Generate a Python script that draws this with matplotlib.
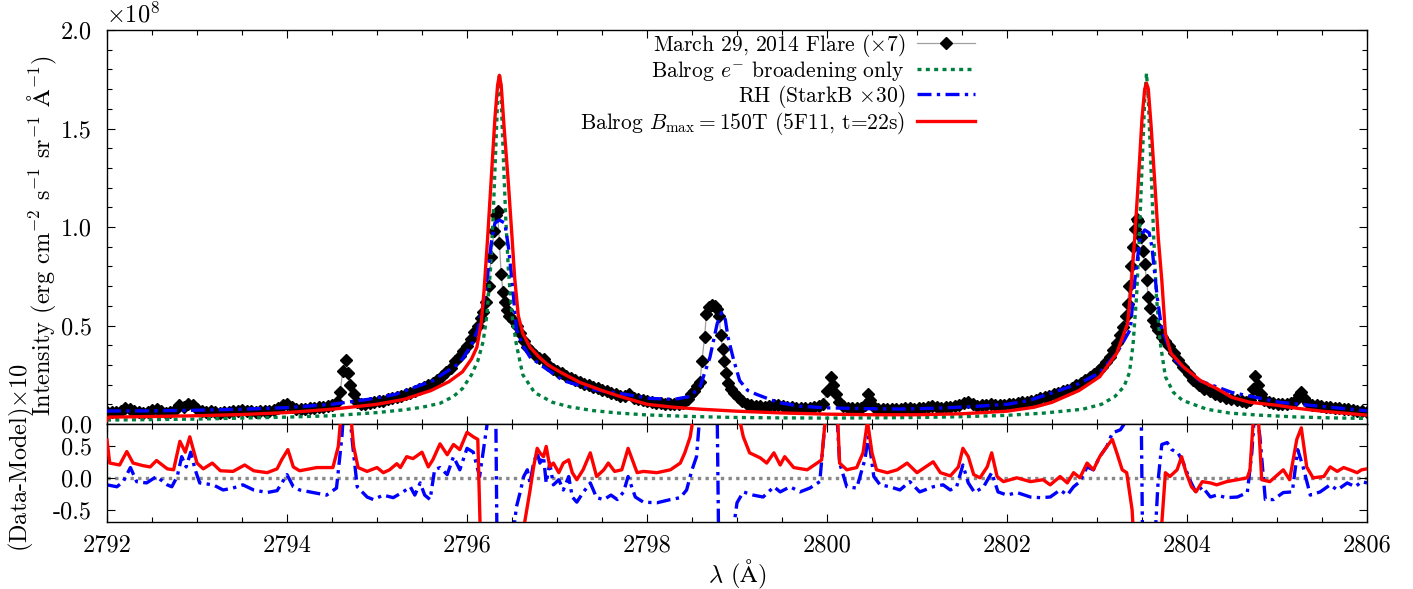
import matplotlib
matplotlib.use("Agg")
import matplotlib.pyplot as plt
from matplotlib.ticker import MultipleLocator

plt.rcParams["font.family"] = ["cmr10", "DejaVu Serif"]
plt.rcParams["mathtext.fontset"] = "cm"
plt.rcParams["axes.formatter.use_mathtext"] = True
plt.rcParams["axes.unicode_minus"] = False

# observed spectrum, March 29 2014 flare (x7), intensity in 1e8 units
obs_wave = [
    2792.00, 2792.05, 2792.10, 2792.15, 2792.20, 2792.25, 2792.30, 2792.35, 2792.40, 2792.45,
    2792.50, 2792.55, 2792.60, 2792.65, 2792.70, 2792.75, 2792.80, 2792.85, 2792.90, 2792.95,
    2793.00, 2793.05, 2793.10, 2793.15, 2793.20, 2793.25, 2793.30, 2793.35, 2793.40, 2793.45,
    2793.50, 2793.55, 2793.60, 2793.65, 2793.70, 2793.75, 2793.80, 2793.85, 2793.90, 2793.95,
    2794.00, 2794.05, 2794.10, 2794.15, 2794.20, 2794.25, 2794.30, 2794.35, 2794.40, 2794.45,
    2794.50, 2794.55, 2794.59, 2794.62, 2794.66, 2794.68, 2794.70, 2794.74, 2794.78, 2794.82,
    2794.87, 2794.92, 2794.97, 2795.02, 2795.07, 2795.12, 2795.17, 2795.22, 2795.27, 2795.32,
    2795.37, 2795.42, 2795.47, 2795.52, 2795.57, 2795.62, 2795.67, 2795.72, 2795.77, 2795.82,
    2795.87, 2795.92, 2795.96, 2796.00, 2796.04, 2796.08, 2796.12, 2796.15, 2796.18, 2796.21,
    2796.24, 2796.27, 2796.30, 2796.32, 2796.34, 2796.36, 2796.38, 2796.40, 2796.42, 2796.44,
    2796.47, 2796.51, 2796.55, 2796.59, 2796.63, 2796.67, 2796.71, 2796.75, 2796.80, 2796.85,
    2796.90, 2796.95, 2797.00, 2797.05, 2797.10, 2797.15, 2797.20, 2797.25, 2797.30, 2797.35,
    2797.40, 2797.45, 2797.50, 2797.55, 2797.60, 2797.65, 2797.70, 2797.75, 2797.80, 2797.85,
    2797.90, 2797.95, 2798.00, 2798.05, 2798.10, 2798.15, 2798.20, 2798.25, 2798.30, 2798.35,
    2798.40, 2798.45, 2798.49, 2798.52, 2798.56, 2798.59, 2798.61, 2798.64, 2798.66, 2798.69,
    2798.72, 2798.75, 2798.78, 2798.80, 2798.82, 2798.84, 2798.86, 2798.88, 2798.90, 2798.93,
    2798.97, 2799.01, 2799.06, 2799.11, 2799.16, 2799.21, 2799.26, 2799.31, 2799.36, 2799.41,
    2799.46, 2799.51, 2799.56, 2799.61, 2799.66, 2799.71, 2799.76, 2799.81, 2799.86, 2799.91,
    2799.96, 2800.00, 2800.04, 2800.07, 2800.10, 2800.13, 2800.18, 2800.23, 2800.28, 2800.33,
    2800.38, 2800.42, 2800.45, 2800.48, 2800.52, 2800.57, 2800.62, 2800.67, 2800.72, 2800.77,
    2800.82, 2800.87, 2800.92, 2800.97, 2801.02, 2801.07, 2801.12, 2801.17, 2801.22, 2801.27,
    2801.32, 2801.37, 2801.42, 2801.47, 2801.52, 2801.57, 2801.62, 2801.67, 2801.72, 2801.77,
    2801.82, 2801.87, 2801.92, 2801.97, 2802.02, 2802.07, 2802.12, 2802.17, 2802.22, 2802.27,
    2802.32, 2802.37, 2802.42, 2802.47, 2802.52, 2802.57, 2802.62, 2802.67, 2802.72, 2802.77,
    2802.82, 2802.87, 2802.92, 2802.97, 2803.02, 2803.06, 2803.10, 2803.14, 2803.18, 2803.22,
    2803.26, 2803.29, 2803.32, 2803.34, 2803.36, 2803.38, 2803.40, 2803.42, 2803.44, 2803.46,
    2803.49, 2803.51, 2803.53, 2803.55, 2803.57, 2803.59, 2803.62, 2803.65, 2803.68, 2803.72,
    2803.76, 2803.80, 2803.85, 2803.90, 2803.96, 2804.02, 2804.07, 2804.13, 2804.19, 2804.25,
    2804.31, 2804.37, 2804.43, 2804.49, 2804.55, 2804.61, 2804.66, 2804.70, 2804.73, 2804.76,
    2804.79, 2804.82, 2804.86, 2804.91, 2804.96, 2805.01, 2805.06, 2805.11, 2805.16, 2805.21,
    2805.24, 2805.27, 2805.30, 2805.34, 2805.39, 2805.44, 2805.49, 2805.54, 2805.59, 2805.64,
    2805.69, 2805.74, 2805.79, 2805.84, 2805.89, 2805.94, 2806.00]
obs_flux = [
    0.060, 0.062, 0.060, 0.068, 0.082, 0.078, 0.064, 0.060, 0.058, 0.062,
    0.070, 0.074, 0.064, 0.058, 0.060, 0.070, 0.095, 0.088, 0.102, 0.095,
    0.078, 0.066, 0.062, 0.068, 0.062, 0.058, 0.060, 0.062, 0.064, 0.066,
    0.070, 0.068, 0.064, 0.062, 0.064, 0.066, 0.068, 0.072, 0.080, 0.095,
    0.100, 0.088, 0.078, 0.076, 0.078, 0.080, 0.082, 0.084, 0.086, 0.090,
    0.094, 0.110, 0.160, 0.270, 0.325, 0.260, 0.200, 0.150, 0.110, 0.100,
    0.102, 0.108, 0.112, 0.115, 0.118, 0.125, 0.130, 0.135, 0.142, 0.150,
    0.158, 0.165, 0.180, 0.190, 0.200, 0.210, 0.225, 0.245, 0.262, 0.285,
    0.320, 0.345, 0.370, 0.395, 0.430, 0.465, 0.500, 0.540, 0.570, 0.620,
    0.700, 0.850, 0.980, 1.060, 1.080, 0.920, 0.760, 0.670, 0.620, 0.580,
    0.550, 0.530, 0.500, 0.460, 0.420, 0.390, 0.370, 0.350, 0.335, 0.330,
    0.300, 0.280, 0.268, 0.258, 0.245, 0.232, 0.222, 0.212, 0.205, 0.196,
    0.190, 0.182, 0.175, 0.168, 0.158, 0.150, 0.144, 0.140, 0.150, 0.132,
    0.125, 0.120, 0.115, 0.112, 0.108, 0.105, 0.104, 0.102, 0.100, 0.102,
    0.108, 0.125, 0.150, 0.170, 0.195, 0.215, 0.320, 0.440, 0.560, 0.595,
    0.605, 0.600, 0.585, 0.550, 0.450, 0.380, 0.320, 0.260, 0.210, 0.180,
    0.158, 0.135, 0.115, 0.100, 0.096, 0.092, 0.090, 0.088, 0.090, 0.096,
    0.094, 0.090, 0.086, 0.084, 0.082, 0.080, 0.080, 0.080, 0.084, 0.090,
    0.100, 0.170, 0.240, 0.200, 0.150, 0.110, 0.090, 0.082, 0.080, 0.080,
    0.082, 0.095, 0.150, 0.120, 0.085, 0.078, 0.076, 0.074, 0.075, 0.076,
    0.078, 0.082, 0.080, 0.078, 0.080, 0.082, 0.085, 0.090, 0.086, 0.082,
    0.084, 0.086, 0.090, 0.096, 0.108, 0.112, 0.100, 0.092, 0.094, 0.096,
    0.104, 0.098, 0.094, 0.096, 0.100, 0.102, 0.106, 0.110, 0.114, 0.118,
    0.124, 0.130, 0.136, 0.142, 0.150, 0.158, 0.166, 0.175, 0.185, 0.196,
    0.208, 0.222, 0.238, 0.255, 0.272, 0.290, 0.315, 0.340, 0.375, 0.410,
    0.450, 0.490, 0.550, 0.610, 0.700, 0.800, 0.900, 0.990, 1.040, 1.030,
    0.950, 0.880, 0.810, 0.730, 0.645, 0.590, 0.530, 0.500, 0.475, 0.440,
    0.420, 0.395, 0.360, 0.325, 0.290, 0.255, 0.225, 0.200, 0.180, 0.165,
    0.152, 0.140, 0.132, 0.128, 0.122, 0.116, 0.112, 0.120, 0.180, 0.245,
    0.200, 0.150, 0.120, 0.112, 0.108, 0.104, 0.102, 0.100, 0.105, 0.120,
    0.145, 0.160, 0.130, 0.108, 0.098, 0.094, 0.090, 0.087, 0.085, 0.082,
    0.080, 0.076, 0.074, 0.072, 0.068, 0.064, 0.060]

# Balrog, e- broadening only
green_wave = [2792.00, 2793.00, 2794.00, 2794.50, 2795.00, 2795.30, 2795.50, 2795.70, 2795.85, 2795.95,
              2796.05, 2796.12, 2796.18, 2796.22, 2796.26, 2796.29, 2796.32, 2796.34, 2796.36, 2796.38,
              2796.40, 2796.43, 2796.46, 2796.50, 2796.55, 2796.62, 2796.75, 2796.95, 2797.14, 2797.40,
              2797.67, 2798.00, 2798.50, 2799.00, 2799.50, 2800.00, 2800.50, 2801.00, 2801.50, 2802.00,
              2802.40, 2802.84, 2803.05, 2803.20, 2803.30, 2803.36, 2803.40, 2803.44, 2803.47, 2803.50,
              2803.53, 2803.55, 2803.57, 2803.60, 2803.63, 2803.66, 2803.70, 2803.76, 2803.85, 2803.95,
              2804.22, 2804.48, 2804.80, 2805.20, 2805.60, 2806.00]
green_flux = [0.020, 0.025, 0.035, 0.042, 0.058, 0.072, 0.085, 0.105, 0.140, 0.180,
              0.250, 0.320, 0.420, 0.550, 0.780, 1.050, 1.400, 1.650, 1.780, 1.650,
              1.400, 1.050, 0.780, 0.550, 0.400, 0.250, 0.160, 0.110, 0.087, 0.068,
              0.056, 0.046, 0.038, 0.033, 0.031, 0.030, 0.031, 0.033, 0.037, 0.044,
              0.055, 0.075, 0.100, 0.140, 0.190, 0.260, 0.400, 0.650, 0.950, 1.300,
              1.650, 1.780, 1.650, 1.300, 0.950, 0.650, 0.420, 0.240, 0.160, 0.120,
              0.075, 0.055, 0.045, 0.036, 0.031, 0.028]

# RH (StarkB x30)
blue_wave = [2792.00, 2792.50, 2793.00, 2793.50, 2794.00, 2794.50, 2794.90, 2795.20, 2795.62, 2795.92,
             2796.05, 2796.12, 2796.17, 2796.22, 2796.27, 2796.31, 2796.36, 2796.42, 2796.46, 2796.50,
             2796.55, 2796.62, 2796.70, 2796.85, 2797.07, 2797.40, 2797.70, 2798.03, 2798.30, 2798.48,
             2798.59, 2798.70, 2798.78, 2798.83, 2798.87, 2798.90, 2798.96, 2799.03, 2799.12, 2799.22,
             2799.45, 2799.70, 2800.00, 2800.40, 2800.81, 2801.20, 2801.60, 2802.00, 2802.25, 2802.48,
             2802.80, 2803.03, 2803.22, 2803.37, 2803.42, 2803.48, 2803.53, 2803.58, 2803.61, 2803.67,
             2803.72, 2803.85, 2804.14, 2804.50, 2805.03, 2805.59, 2806.00]
blue_flux = [0.066, 0.067, 0.070, 0.075, 0.083, 0.100, 0.125, 0.150, 0.220, 0.310,
             0.400, 0.480, 0.580, 0.730, 0.920, 1.020, 1.035, 1.020, 0.900, 0.730,
             0.480, 0.400, 0.340, 0.290, 0.220, 0.175, 0.155, 0.130, 0.125, 0.140,
             0.190, 0.340, 0.510, 0.565, 0.530, 0.440, 0.330, 0.220, 0.170, 0.150,
             0.110, 0.090, 0.082, 0.078, 0.076, 0.080, 0.088, 0.100, 0.120, 0.155,
             0.205, 0.260, 0.360, 0.480, 0.730, 0.950, 0.985, 0.970, 0.900, 0.640,
             0.480, 0.330, 0.220, 0.160, 0.110, 0.085, 0.067]

# Balrog Bmax = 150T (5F11, t=22s)
red_wave = [2792.00, 2792.02, 2792.50, 2793.00, 2793.50, 2794.00, 2794.50, 2795.00, 2795.30, 2795.60,
            2795.80, 2795.95, 2796.05, 2796.11, 2796.16, 2796.19, 2796.23, 2796.27, 2796.31, 2796.34,
            2796.36, 2796.38, 2796.41, 2796.46, 2796.50, 2796.53, 2796.57, 2796.62, 2796.70, 2796.80,
            2796.90, 2797.05, 2797.26, 2797.50, 2797.70, 2798.00, 2798.30, 2798.60, 2799.00, 2799.50,
            2800.00, 2800.50, 2801.00, 2801.50, 2802.00, 2802.30, 2802.50, 2802.80, 2803.03, 2803.22,
            2803.34, 2803.38, 2803.42, 2803.46, 2803.50, 2803.53, 2803.55, 2803.57, 2803.60, 2803.64,
            2803.68, 2803.72, 2803.76, 2803.82, 2803.96, 2804.15, 2804.33, 2804.50, 2804.70, 2805.00,
            2805.22, 2805.50, 2805.75, 2806.00]
red_flux = [0.020, 0.035, 0.038, 0.042, 0.048, 0.058, 0.075, 0.100, 0.125, 0.170,
            0.215, 0.265, 0.330, 0.390, 0.520, 0.680, 0.950, 1.250, 1.550, 1.720,
            1.770, 1.720, 1.520, 1.220, 0.950, 0.740, 0.550, 0.460, 0.390, 0.340,
            0.300, 0.260, 0.210, 0.170, 0.140, 0.100, 0.085, 0.075, 0.065, 0.056,
            0.050, 0.047, 0.047, 0.052, 0.065, 0.085, 0.110, 0.170, 0.240, 0.360,
            0.510, 0.700, 0.950, 1.240, 1.550, 1.700, 1.730, 1.700, 1.520, 1.240,
            0.950, 0.730, 0.460, 0.360, 0.290, 0.220, 0.180, 0.135, 0.110, 0.095,
            0.080, 0.065, 0.055, 0.045]

# residuals (Data-Model)x10, Balrog model
rres_wave = [2792.00, 2792.03, 2792.14, 2792.22, 2792.29, 2792.40, 2792.48, 2792.55, 2792.67, 2792.74,
             2792.81, 2792.87, 2792.92, 2793.00, 2793.07, 2793.17, 2793.26, 2793.40, 2793.53, 2793.63,
             2793.78, 2793.89, 2793.94, 2794.01, 2794.07, 2794.14, 2794.33, 2794.51, 2794.57, 2794.62,
             2794.67, 2794.70, 2794.74, 2794.79, 2794.89, 2795.00, 2795.07, 2795.14, 2795.22, 2795.26,
             2795.33, 2795.40, 2795.50, 2795.57, 2795.62, 2795.70, 2795.78, 2795.85, 2795.92, 2796.00,
             2796.07, 2796.12, 2796.16, 2796.30, 2796.45, 2796.58, 2796.64, 2796.70, 2796.74, 2796.78,
             2796.81, 2796.85, 2796.88, 2796.92, 2796.96, 2797.02, 2797.07, 2797.13, 2797.17, 2797.22,
             2797.29, 2797.37, 2797.44, 2797.52, 2797.57, 2797.64, 2797.72, 2797.79, 2797.89, 2797.96,
             2798.11, 2798.26, 2798.37, 2798.42, 2798.48, 2798.52, 2798.60, 2798.75, 2798.95, 2799.03,
             2799.07, 2799.14, 2799.26, 2799.33, 2799.41, 2799.48, 2799.53, 2799.63, 2799.78, 2799.89,
             2799.94, 2799.98, 2800.05, 2800.11, 2800.14, 2800.22, 2800.33, 2800.40, 2800.45, 2800.50,
             2800.55, 2800.67, 2800.78, 2800.89, 2801.00, 2801.18, 2801.26, 2801.37, 2801.46, 2801.51,
             2801.57, 2801.63, 2801.70, 2801.78, 2801.83, 2801.89, 2801.96, 2802.11, 2802.26, 2802.40,
             2802.48, 2802.59, 2802.67, 2802.74, 2802.81, 2802.89, 2802.96, 2803.03, 2803.11, 2803.17,
             2803.22, 2803.28, 2803.33, 2803.39, 2803.43, 2803.55, 2803.68, 2803.73, 2803.76, 2803.81,
             2803.89, 2803.94, 2803.99, 2804.05, 2804.10, 2804.17, 2804.26, 2804.33, 2804.44, 2804.56,
             2804.67, 2804.70, 2804.75, 2804.79, 2804.83, 2804.92, 2805.07, 2805.14, 2805.22, 2805.27,
             2805.33, 2805.40, 2805.52, 2805.59, 2805.67, 2805.74, 2805.81, 2805.89, 2805.94, 2806.00]
rres_val = [0.59, 0.23, 0.20, 0.41, 0.23, 0.19, 0.17, 0.27, 0.14, 0.125,
            0.57, 0.40, 0.64, 0.23, 0.14, 0.23, 0.11, 0.10, 0.20, 0.11,
            0.08, 0.14, 0.28, 0.44, 0.17, 0.11, 0.16, 0.16, 0.49, 1.30,
            1.60, 1.10, 0.49, 0.16, 0.10, 0.16, 0.08, 0.125, 0.22, 0.16,
            0.33, 0.30, 0.40, 0.17, 0.28, 0.53, 0.36, 0.52, 0.44, 0.71,
            0.64, 0.60, -1.5, -4.0, -3.0, -1.2, -0.7, -0.2, 0.17, 0.46,
            0.39, 0.33, 0.49, 0.17, 0.23, 0.08, 0.23, 0.28, 0.08, -0.03,
            0.125, 0.39, 0.02, 0.125, 0.23, 0.10, 0.125, 0.46, 0.08, 0.10,
            0.08, 0.125, 0.23, 0.39, 0.64, 1.0, 3.0, 6.0, 2.0, 0.9,
            0.64, 0.39, 0.31, 0.23, 0.39, 0.20, 0.33, 0.16, 0.125, 0.23,
            0.28, 0.9, 2.5, 1.2, 0.23, 0.125, 0.16, 0.39, 0.88, 0.39,
            0.125, 0.08, 0.125, 0.23, 0.08, 0.25, 0.08, 0.03, 0.17, 0.46,
            0.33, 0.05, 0.00, 0.17, 0.39, 0.02, -0.06, 0.00, -0.06, -0.03,
            -0.11, 0.02, -0.08, 0.08, 0.00, 0.23, 0.125, 0.33, 0.49, 0.60,
            0.39, 0.125, 0.08, -0.50, -1.5, -4.0, -1.5, -0.5, 0.08, 0.02,
            0.125, 0.33, 0.08, -0.14, -0.22, -0.06, -0.08, -0.11, -0.06, -0.03,
            0.00, 0.125, 1.2, 1.0, -0.03, -0.06, 0.125, -0.03, 0.60, 0.78,
            0.17, 0.00, 0.02, 0.17, 0.10, 0.16, 0.125, 0.08, 0.125, 0.14]

# residuals (Data-Model)x10, RH model
bres_wave = [2792.00, 2792.11, 2792.18, 2792.26, 2792.33, 2792.44, 2792.55, 2792.67, 2792.72, 2792.78,
             2792.83, 2792.88, 2792.93, 2792.98, 2793.03, 2793.18, 2793.29, 2793.40, 2793.51, 2793.63,
             2793.78, 2793.89, 2794.00, 2794.07, 2794.14, 2794.29, 2794.44, 2794.55, 2794.61, 2794.65,
             2794.69, 2794.72, 2794.78, 2794.89, 2794.96, 2795.07, 2795.18, 2795.29, 2795.37, 2795.42,
             2795.48, 2795.53, 2795.59, 2795.64, 2795.70, 2795.78, 2795.85, 2795.92, 2796.00, 2796.07,
             2796.14, 2796.22, 2796.27, 2796.31, 2796.34, 2796.42, 2796.51, 2796.55, 2796.59, 2796.63,
             2796.67, 2796.70, 2796.74, 2796.78, 2796.81, 2796.85, 2796.88, 2796.92, 2796.96, 2797.02,
             2797.07, 2797.13, 2797.17, 2797.22, 2797.29, 2797.37, 2797.44, 2797.52, 2797.60, 2797.67,
             2797.74, 2797.79, 2797.87, 2797.96, 2798.11, 2798.26, 2798.37, 2798.44, 2798.50, 2798.55,
             2798.60, 2798.70, 2798.78, 2798.80, 2798.90, 2798.96, 2799.00, 2799.07, 2799.18, 2799.29,
             2799.41, 2799.48, 2799.59, 2799.70, 2799.81, 2799.92, 2799.98, 2800.05, 2800.11, 2800.14,
             2800.22, 2800.33, 2800.42, 2800.46, 2800.52, 2800.59, 2800.70, 2800.81, 2800.92, 2801.03,
             2801.18, 2801.29, 2801.37, 2801.44, 2801.51, 2801.57, 2801.64, 2801.74, 2801.83, 2801.90,
             2802.00, 2802.11, 2802.26, 2802.37, 2802.48, 2802.59, 2802.67, 2802.74, 2802.81, 2802.89,
             2802.96, 2803.03, 2803.11, 2803.17, 2803.26, 2803.33, 2803.45, 2803.49, 2803.51, 2803.60,
             2803.65, 2803.68, 2803.72, 2803.78, 2803.83, 2803.90, 2803.96, 2804.03, 2804.10, 2804.17,
             2804.26, 2804.33, 2804.44, 2804.56, 2804.67, 2804.72, 2804.76, 2804.81, 2804.87, 2804.96,
             2805.07, 2805.17, 2805.23, 2805.29, 2805.37, 2805.48, 2805.59, 2805.67, 2805.78, 2805.87,
             2805.94, 2806.00]
bres_val = [-0.11, -0.14, -0.06, 0.16, -0.06, -0.08, 0.02, -0.11, -0.14, 0.02,
            0.33, 0.17, 0.40, 0.125, -0.08, -0.11, -0.19, -0.16, -0.11, -0.19,
            -0.23, -0.20, 0.05, -0.14, -0.19, -0.23, -0.27, -0.16, 0.64, 1.5,
            1.2, 0.64, -0.14, -0.30, -0.34, -0.27, -0.31, -0.22, -0.14, -0.27,
            -0.08, -0.27, -0.34, 0.125, 0.16, 0.05, 0.33, 0.125, 0.46, 0.40,
            0.02, 0.80, 2.0, 2.5, -2.0, -3.0, -0.9, -0.45, -0.23, 0.02,
            0.125, -0.08, 0.23, 0.39, 0.23, 0.33, -0.08, 0.23, -0.11, -0.03,
            -0.19, 0.02, -0.30, -0.38, -0.23, -0.08, -0.31, -0.34, -0.27, -0.34,
            -0.22, 0.02, -0.30, -0.38, -0.39, -0.34, -0.31, -0.19, 0.125, 0.33,
            1.2, 2.0, 1.0, -1.5, -1.5, -0.8, -0.39, -0.22, -0.27, -0.30,
            -0.14, -0.22, -0.14, -0.22, -0.16, -0.06, 0.9, 2.0, 1.0, 0.23,
            -0.14, -0.16, 0.28, 0.64, 0.02, -0.11, -0.14, -0.19, -0.06, -0.22,
            -0.14, -0.11, -0.19, -0.14, 0.20, -0.08, -0.23, -0.14, 0.08, -0.22,
            -0.27, -0.23, -0.30, -0.31, -0.30, -0.19, -0.27, -0.14, -0.06, 0.17,
            0.125, 0.33, 0.49, 0.70, 0.75, 0.90, 1.5, 1.2, -1.5, -2.0,
            -0.8, -0.03, 0.52, 0.55, 0.44, 0.39, 0.23, -0.03, -0.23, -0.14,
            -0.30, -0.27, -0.31, -0.30, -0.23, 0.39, 1.2, 0.64, -0.34, -0.34,
            -0.23, -0.22, 0.44, 0.17, -0.27, -0.22, -0.11, -0.19, -0.08, -0.14,
            -0.06, -0.08]

W, H = 1413, 589
fig = plt.figure(figsize=(W / 100, H / 100), dpi=100)
left, right = 107, 1367
ax = fig.add_axes([left / W, 1 - 424 / H, (right - left) / W, 394 / H])
axr = fig.add_axes([left / W, 1 - 522 / H, (right - left) / W, 98 / H])

FS = 15.5      # legend
TFS = 17.5     # ticks and axis labels
lw = 2.4
h_obs, = ax.plot(obs_wave, obs_flux, color="#a0a0a0", lw=0.9, marker="D", ms=6.4,
                 mfc="black", mec="black", zorder=2,
                 label=r"March 29, 2014 Flare ($\times$7)")
h_g, = ax.plot(green_wave, green_flux, color="#008040", lw=lw, dashes=(1.2, 1.3),
               zorder=3, label=r"Balrog $e^{-}$ broadening only")
h_b, = ax.plot(blue_wave, blue_flux, color="#0000ff", lw=lw, dashes=(4.2, 1.6, 1.0, 1.6),
               zorder=4, label=r"RH (StarkB $\times$30)")
h_r, = ax.plot(red_wave, red_flux, color="#ff0000", lw=lw, zorder=5,
               label=r"Balrog $B_{\rm max}=150$T (5F11, t=22s)")

axr.axhline(0.0, color="#888888", lw=lw, dashes=(1.0, 1.3), zorder=1)
axr.plot(bres_wave, bres_val, color="#0000ff", lw=lw, dashes=(4.2, 1.6, 1.0, 1.6), zorder=2)
axr.plot(rres_wave, rres_val, color="#ff0000", lw=lw, zorder=3)

for a in (ax, axr):
    a.set_xlim(2792, 2806)
    a.xaxis.set_major_locator(MultipleLocator(2))
    a.xaxis.set_minor_locator(MultipleLocator(0.5))
    a.tick_params(which="both", direction="in", top=True, right=True, labelsize=TFS)
    a.tick_params(which="major", length=6, width=0.8)
    a.tick_params(which="minor", length=3.5, width=0.8)
    a.tick_params(axis="y", which="major", pad=11)
    a.tick_params(axis="x", which="major", pad=9)
    for s in a.spines.values():
        s.set_linewidth(1.0)

ax.set_ylim(0, 2.0)
ax.yaxis.set_minor_locator(MultipleLocator(0.1))
ax.set_yticks([0.0, 0.5, 1.0, 1.5, 2.0])
ax.set_yticklabels(["0.0", "0.5", "1.0", "1.5", "2.0"])
ax.tick_params(labelbottom=False)

axr.set_ylim(-0.69, 0.84)
axr.set_yticks([-0.5, 0.0, 0.5])
axr.set_yticklabels(["-0.5", "0.0", "0.5"])
axr.set_xticks([2792, 2794, 2796, 2798, 2800, 2802, 2804, 2806])
axr.set_xticklabels(["2792", "2794", "2796", "2798", "2800", "2802", "2804", "2806"])
axr.set_xlabel(r"$\lambda$ ($\mathrm{\AA}$)", fontsize=TFS, labelpad=1)

fig.text(42 / W, 1 - 236 / H,
         r"Intensity (erg cm$^{-2}$ s$^{-1}$ sr$^{-1}$ $\mathrm{\AA}^{-1}$)",
         rotation=90, ha="center", va="center", fontsize=TFS)
fig.text(21 / W, 1 - 458 / H, r"(Data-Model)$\times$10",
         rotation=90, ha="center", va="center", fontsize=TFS)
fig.text(106 / W, 1 - 15 / H, r"$\times10^{8}$", ha="left", va="center", fontsize=TFS)

ax.legend(handles=[h_obs, h_g, h_b, h_r], loc="upper right",
          bbox_to_anchor=(975 / W, 1 - 32 / H), bbox_transform=fig.transFigure,
          frameon=False, markerfirst=False, numpoints=1, fontsize=FS,
          handlelength=2.7, handletextpad=0.55, labelspacing=0.0,
          borderpad=0, borderaxespad=0)

fig.savefig("out.png", dpi=100)
